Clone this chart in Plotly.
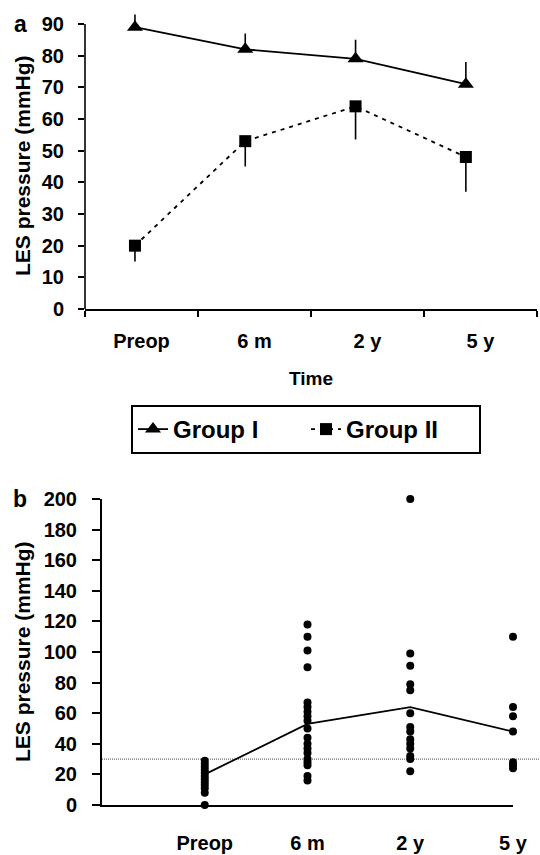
import plotly.graph_objects as go

# ---------------- data ----------------
categories = ["Preop", "6 m", "2 y", "5 y"]

group1_mean = [89, 82, 79, 71]
group1_err_up = [4, 5, 6, 7]
group2_mean = [20, 53, 64, 48]
group2_err_down = [5, 8, 10.5, 11]

preop_vals = [29, 27, 25, 23, 21, 19, 17, 15, 13, 11, 8, 0]
m6_vals = [118, 110, 101, 90, 67, 64, 61, 58, 55, 50, 44, 40, 37, 34, 30, 28, 26, 19, 16]
y2_vals = [200, 99, 91, 79, 75, 60, 51, 48, 43, 40, 37, 32, 30, 22]
y5_vals = [110, 64, 58, 48, 28, 26, 24]
b_mean = [20, 53, 64, 48]
threshold = 30

a_yticks = list(range(0, 91, 10))
b_yticks = list(range(0, 201, 20))
a_ymax, a_yshow = 94, 90

# ---------------- helpers ----------------
W, H = 540, 855
def fx(px):
    return px / W
def fy(py):
    return 1 - py / H

FONT = "Liberation Sans, Arial, Helvetica, sans-serif"
idx = list(range(len(categories)))

# panel a vertical geometry: value 0 at 309 px, 90 at 24 px
a_px_per_unit = (309 - 24) / 90
a_top_px = 309 - a_ymax * a_px_per_unit

fig = go.Figure()

# Panel a
fig.add_trace(go.Scatter(
    x=idx, y=group1_mean, name="Group I", mode="lines+markers",
    line=dict(color="black", width=1.8),
    marker=dict(symbol="triangle-up", size=14, color="black"),
    error_y=dict(type="data", symmetric=False, array=group1_err_up,
                 arrayminus=[0] * 4, color="black", thickness=1.6, width=0),
    xaxis="x", yaxis="y", cliponaxis=False))
fig.add_trace(go.Scatter(
    x=idx, y=group2_mean, name="Group II", mode="lines+markers",
    line=dict(color="black", width=1.8, dash="4px,5px"),
    marker=dict(symbol="square", size=12, color="black"),
    error_y=dict(type="data", symmetric=False, array=[0] * 4,
                 arrayminus=group2_err_down, color="black", thickness=1.6, width=0),
    xaxis="x", yaxis="y", cliponaxis=False))
# invisible trace for category label axis
fig.add_trace(go.Scatter(x=categories, y=[None] * 4, xaxis="x3", yaxis="y",
                         showlegend=False, hoverinfo="skip", mode="markers"))

# Panel b
for i, vals in enumerate([preop_vals, m6_vals, y2_vals, y5_vals]):
    fig.add_trace(go.Scatter(
        x=[i] * len(vals), y=vals, mode="markers", showlegend=False,
        marker=dict(size=8, color="black"), xaxis="x2", yaxis="y2", cliponaxis=False))
fig.add_trace(go.Scatter(
    x=idx, y=b_mean, mode="lines", showlegend=False,
    line=dict(color="black", width=1.8), xaxis="x2", yaxis="y2", cliponaxis=False))

# panel a y-axis line only up to 90
fig.add_shape(type="line", xref="x domain", yref="y", x0=0, x1=0, y0=0, y1=a_yshow,
              line=dict(color="black", width=1.6))
# reference dotted line in panel b
fig.add_shape(type="line", xref="x2 domain", yref="y2",
              x0=0, x1=(540 - 102) / (513 - 102), y0=threshold, y1=threshold,
              line=dict(color="#444", width=1, dash="1px,1px"), layer="below")

axis_common = dict(showgrid=False, zeroline=False, linecolor="black",
                   automargin=False, tickcolor="black")

fig.update_layout(
    width=W, height=H,
    margin=dict(l=0, r=0, t=0, b=0, autoexpand=False),
    paper_bgcolor="white", plot_bgcolor="white",
    font=dict(family=FONT, size=20, color="black", weight="bold"),
    xaxis=dict(domain=[fx(85), fx(537)], range=[-0.453, 3.645], visible=False,
               anchor="y", **axis_common),
    xaxis3=dict(overlaying="x", anchor="y", type="category",
                categoryarray=categories, range=[-0.5, 3.5],
                tickson="boundaries", ticks="outside", ticklen=6, tickwidth=1.5,
                showline=True, linewidth=1.6, ticklabelstandoff=13, **axis_common),
    yaxis=dict(domain=[fy(309), fy(a_top_px)], range=[0, a_ymax], tickvals=a_yticks,
               ticks="outside", ticklen=6, tickwidth=1.5, showline=False,
               anchor="x", ticklabelstandoff=10, **axis_common),
    xaxis2=dict(domain=[fx(102), fx(513)], range=[-1, 3], anchor="y2",
                tickvals=idx, ticktext=categories, ticks="", showline=True,
                linewidth=2, ticklabelstandoff=19, **axis_common),
    yaxis2=dict(domain=[fy(805), fy(499)], range=[0, 200], tickvals=b_yticks,
                anchor="x2", ticks="outside", ticklen=8, tickwidth=1.8, showline=True,
                linewidth=2, ticklabelstandoff=11, **axis_common),
    legend=dict(orientation="h", x=fx(131), xanchor="left", y=fy(405), yanchor="top",
                bordercolor="black", borderwidth=2, font=dict(size=24),
                entrywidth=128, entrywidthmode="pixels", bgcolor="white"),
    annotations=[
        dict(text="a", x=fx(20), y=fy(24), xref="paper", yref="paper", showarrow=False,
             font=dict(size=23), xanchor="center", yanchor="middle"),
        dict(text="b", x=fx(20), y=fy(499), xref="paper", yref="paper", showarrow=False,
             font=dict(size=23), xanchor="center", yanchor="middle"),
        dict(text="LES pressure (mmHg)", x=fx(22), y=fy(166), xref="paper", yref="paper",
             showarrow=False, textangle=-90, font=dict(size=21),
             xanchor="center", yanchor="middle"),
        dict(text="LES pressure (mmHg)", x=fx(22), y=fy(652), xref="paper", yref="paper",
             showarrow=False, textangle=-90, font=dict(size=21),
             xanchor="center", yanchor="middle"),
        dict(text="Time", x=fx(311), y=fy(378), xref="paper", yref="paper",
             showarrow=False, font=dict(size=19), xanchor="center", yanchor="middle"),
    ],
)

fig.write_html("out.html", config={"displayModeBar": False},
               post_script="document.body.style.margin='0px';")
